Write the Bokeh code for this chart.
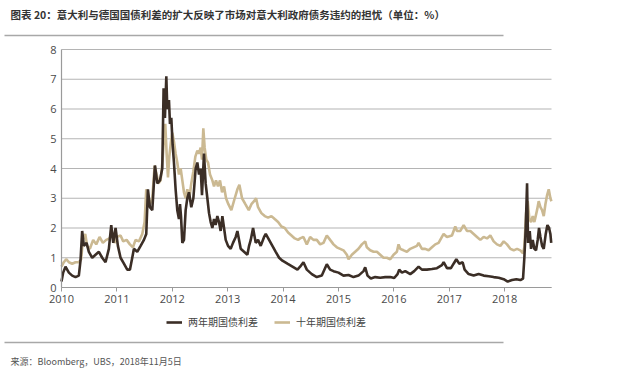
from bokeh.plotting import figure
from bokeh.models import (FixedTicker, Label, Legend, LegendItem, Range1d, LinearAxis)
from bokeh.embed import file_html
from bokeh.resources import INLINE

title_text = "图表 20：意大利与德国国债利差的扩大反映了市场对意大利政府债务违约的担忧（单位：%）"
source_text = "来源：Bloomberg，UBS，2018年11月5日"
name_2y = "两年期国债利差"
name_10y = "十年期国债利差"
year_ticks = [2010, 2011, 2012, 2013, 2014, 2015, 2016, 2017, 2018]
y_ticks = [0, 1, 2, 3, 4, 5, 6, 7, 8]
x_start, x_end = 2010.0, 2018.845
y_start, y_end = 0, 8

# Two-year spread (decimal year, %)
t_2y = [2010.000, 2010.030, 2010.072, 2010.133, 2010.193, 2010.253, 2010.313, 2010.343, 2010.373, 2010.404,
        2010.452, 2010.494, 2010.554, 2010.614, 2010.675, 2010.735, 2010.795, 2010.855, 2010.898, 2010.934,
        2010.976, 2011.018, 2011.066, 2011.127, 2011.187, 2011.235, 2011.277, 2011.307, 2011.367, 2011.428,
        2011.488, 2011.530, 2011.560, 2011.596, 2011.639, 2011.687, 2011.729, 2011.777, 2011.819, 2011.843,
        2011.867, 2011.892, 2011.910, 2011.940, 2011.958, 2011.982, 2012.006, 2012.030, 2012.060, 2012.090,
        2012.120, 2012.139, 2012.157, 2012.181, 2012.211, 2012.241, 2012.271, 2012.301, 2012.343, 2012.380,
        2012.422, 2012.452, 2012.482, 2012.512, 2012.536, 2012.554, 2012.572, 2012.602, 2012.633, 2012.663,
        2012.693, 2012.723, 2012.753, 2012.783, 2012.813, 2012.843, 2012.873, 2012.904, 2012.934, 2012.964,
        2013.006, 2013.054, 2013.096, 2013.145, 2013.175, 2013.235, 2013.295, 2013.355, 2013.386, 2013.416,
        2013.458, 2013.506, 2013.548, 2013.596, 2013.657, 2013.687, 2013.747, 2013.807, 2013.867, 2013.928,
        2013.988, 2014.078, 2014.169, 2014.259, 2014.307, 2014.367, 2014.428, 2014.518, 2014.608, 2014.699,
        2014.789, 2014.849, 2014.910, 2015.000, 2015.090, 2015.181, 2015.271, 2015.361, 2015.452, 2015.482,
        2015.524, 2015.584, 2015.663, 2015.753, 2015.843, 2015.934, 2016.006, 2016.066, 2016.096, 2016.145,
        2016.205, 2016.295, 2016.367, 2016.446, 2016.506, 2016.596, 2016.687, 2016.777, 2016.867, 2016.898,
        2016.958, 2017.030, 2017.078, 2017.127, 2017.181, 2017.241, 2017.277, 2017.349, 2017.440, 2017.530,
        2017.620, 2017.711, 2017.801, 2017.892, 2017.982, 2018.054, 2018.133, 2018.211, 2018.283, 2018.331,
        2018.355, 2018.380, 2018.404, 2018.422, 2018.452, 2018.476, 2018.506, 2018.536, 2018.566, 2018.596,
        2018.620, 2018.645, 2018.675, 2018.705, 2018.741, 2018.771, 2018.801, 2018.825, 2018.840]
v_2y = [0.2, 0.5, 0.7, 0.5, 0.4, 0.35, 0.4, 0.9, 1.9, 1.4,
        1.5, 1.2, 1.0, 1.1, 1.2, 1.0, 0.85, 1.3, 2.1, 1.5,
        2.0, 1.4, 1.0, 0.8, 0.6, 0.6, 1.0, 1.3, 1.2, 1.4,
        1.6, 1.8, 3.3, 2.7, 2.6, 4.1, 3.5, 3.6, 4.0, 6.7,
        5.7, 7.1, 6.0, 6.3, 5.5, 5.7, 4.8, 4.2, 3.3, 2.6,
        2.3, 2.8, 2.4, 1.5, 1.6, 2.6, 3.0, 3.2, 2.7, 3.0,
        4.0, 4.2, 3.8, 4.0, 3.1, 3.8, 4.5, 3.5, 3.0, 2.5,
        2.2, 2.0, 2.3, 2.1, 2.4, 2.2, 1.9, 2.4, 2.0, 1.6,
        1.4, 1.3, 1.5, 1.7, 1.9, 1.3, 1.2, 1.1, 1.4, 1.6,
        2.0, 1.5, 1.6, 1.4, 1.7, 1.8, 1.6, 1.4, 1.2, 1.0,
        0.9, 0.8, 0.7, 0.6, 0.7, 0.85, 0.6, 0.45, 0.35, 0.4,
        0.78, 0.6, 0.55, 0.5, 0.4, 0.42, 0.35, 0.4, 0.55, 0.68,
        0.4, 0.3, 0.35, 0.33, 0.35, 0.35, 0.32, 0.45, 0.6, 0.5,
        0.55, 0.45, 0.55, 0.7, 0.6, 0.6, 0.62, 0.65, 0.75, 0.85,
        0.65, 0.65, 0.8, 0.95, 0.8, 0.85, 0.6, 0.45, 0.4, 0.45,
        0.4, 0.38, 0.35, 0.33, 0.28, 0.2, 0.25, 0.28, 0.25, 0.3,
        1.0, 2.0, 3.5, 1.5, 1.9, 1.3, 1.6, 1.3, 1.25, 1.6,
        2.0, 1.7, 1.4, 1.3, 1.8, 2.1, 2.0, 1.8, 1.5]

# Ten-year spread (decimal year, %)
t_10y = [2010.000, 2010.042, 2010.084, 2010.133, 2010.193, 2010.253, 2010.313, 2010.355, 2010.386, 2010.428,
         2010.464, 2010.512, 2010.572, 2010.627, 2010.687, 2010.747, 2010.807, 2010.867, 2010.916, 2010.958,
         2011.006, 2011.066, 2011.114, 2011.175, 2011.235, 2011.289, 2011.337, 2011.398, 2011.458, 2011.500,
         2011.530, 2011.560, 2011.596, 2011.639, 2011.681, 2011.717, 2011.753, 2011.789, 2011.825, 2011.849,
         2011.873, 2011.898, 2011.922, 2011.946, 2011.976, 2012.000, 2012.030, 2012.060, 2012.090, 2012.120,
         2012.151, 2012.181, 2012.211, 2012.241, 2012.271, 2012.307, 2012.343, 2012.380, 2012.416, 2012.452,
         2012.482, 2012.512, 2012.536, 2012.560, 2012.584, 2012.614, 2012.645, 2012.681, 2012.723, 2012.753,
         2012.789, 2012.825, 2012.861, 2012.898, 2012.934, 2012.970, 2013.012, 2013.066, 2013.127, 2013.175,
         2013.211, 2013.259, 2013.319, 2013.380, 2013.428, 2013.476, 2013.512, 2013.548, 2013.608, 2013.669,
         2013.729, 2013.789, 2013.849, 2013.910, 2013.970, 2014.030, 2014.090, 2014.151, 2014.211, 2014.271,
         2014.307, 2014.367, 2014.428, 2014.488, 2014.548, 2014.608, 2014.669, 2014.729, 2014.789, 2014.849,
         2014.910, 2014.970, 2015.030, 2015.090, 2015.151, 2015.181, 2015.241, 2015.301, 2015.361, 2015.422,
         2015.482, 2015.512, 2015.572, 2015.633, 2015.693, 2015.753, 2015.813, 2015.873, 2015.934, 2015.994,
         2016.054, 2016.084, 2016.114, 2016.175, 2016.235, 2016.295, 2016.355, 2016.416, 2016.446, 2016.506,
         2016.566, 2016.627, 2016.687, 2016.747, 2016.807, 2016.867, 2016.898, 2016.958, 2017.048, 2017.108,
         2017.139, 2017.199, 2017.259, 2017.319, 2017.380, 2017.440, 2017.500, 2017.560, 2017.620, 2017.681,
         2017.741, 2017.801, 2017.861, 2017.922, 2017.982, 2018.042, 2018.102, 2018.163, 2018.223, 2018.283,
         2018.331, 2018.355, 2018.386, 2018.416, 2018.446, 2018.476, 2018.506, 2018.536, 2018.584, 2018.614,
         2018.645, 2018.675, 2018.705, 2018.735, 2018.765, 2018.795, 2018.825, 2018.843]
v_10y = [0.7, 0.85, 0.95, 0.85, 0.8, 0.85, 0.85, 0.95, 1.6, 1.8,
         1.4, 1.3, 1.6, 1.45, 1.7, 1.5, 1.6, 1.65, 1.85, 1.5,
         1.7, 1.75, 1.55, 1.6, 1.45, 1.35, 1.6, 1.55, 1.8, 2.2,
         3.3, 3.0, 2.8, 3.0, 4.1, 3.8, 3.5, 3.6, 4.3, 5.0,
         5.5, 4.5, 3.7, 4.4, 4.9, 5.2, 4.9, 4.5, 4.2, 3.8,
         4.0, 3.6, 3.2, 3.0, 3.3, 3.0, 3.5, 3.9, 4.4, 4.6,
         4.5, 4.7, 4.3, 5.35, 4.7, 4.3, 4.2, 3.8, 3.6, 3.4,
         3.6, 3.4, 3.6, 3.2, 3.4, 3.0, 2.8, 2.6, 3.0, 3.3,
         3.45, 3.0, 2.8, 2.6, 2.8, 2.9, 3.0, 2.7, 2.5, 2.4,
         2.35, 2.4, 2.3, 2.2, 2.05, 2.0, 1.85, 1.75, 1.65, 1.6,
         1.65, 1.7, 1.45, 1.7, 1.6, 1.6, 1.45, 1.5, 1.75, 1.6,
         1.45, 1.35, 1.3, 1.25, 1.1, 0.95, 1.1, 1.2, 1.3, 1.45,
         1.55, 1.35, 1.25, 1.2, 1.2, 1.1, 1.0, 1.0, 0.95, 1.1,
         1.2, 1.45, 1.3, 1.25, 1.2, 1.3, 1.35, 1.4, 1.5, 1.3,
         1.3, 1.25, 1.35, 1.45, 1.5, 1.7, 1.8, 1.7, 1.75, 2.05,
         1.9, 1.9, 2.1, 1.9, 1.9, 1.8, 1.7, 1.6, 1.7, 1.65,
         1.75, 1.55, 1.45, 1.4, 1.55, 1.45, 1.3, 1.25, 1.3, 1.25,
         1.15, 1.35, 2.5, 2.9, 2.3, 2.2, 2.4, 2.2, 2.6, 2.9,
         2.7, 2.6, 2.4, 2.8, 3.1, 3.3, 3.0, 2.9]

DARK = "#3b2e26"
TAN = "#cbb992"
FONT = "Open Sans"
CJK = "Noto Sans CJK SC"
W, H = 620, 379
# plot-area placement on the canvas (pixels from the top-left corner)
PL, PR, PT, PB = 61, 551, 49, 287

# extend the data ranges so the data area sits at PL..PR / PT..PB while the frame covers the canvas
xs = (x_end - x_start) / (PR - PL)
ys = (y_end - y_start) / (PB - PT)
xr = Range1d(x_start - PL * xs, x_end + (W - PR) * xs)
yr = Range1d(y_start - (H - PB) * ys, y_end + PT * ys)


def px_x(px):
    return xr.start + px * xs


def px_y(py):
    return yr.end - py * ys


p = figure(width=W, height=H, output_backend="svg", toolbar_location=None,
           x_range=xr, y_range=yr, x_axis_location=None, y_axis_location=None,
           min_border=0, min_border_left=0, min_border_right=0,
           min_border_top=0, min_border_bottom=0)
p.outline_line_color = None
p.grid.visible = False

# horizontal grid lines at the y ticks, spanning the data area
p.segment(x0=[x_start] * len(y_ticks), y0=y_ticks, x1=[x_end] * len(y_ticks), y1=y_ticks,
          line_color="#b4b4b4", line_width=1.2)

xaxis = LinearAxis(fixed_location=y_start, bounds=(x_start, x_end),
                   ticker=FixedTicker(ticks=year_ticks),
                   major_label_overrides={y: str(y) for y in year_ticks},
                   major_tick_in=0, major_tick_out=4, major_label_standoff=3)
yaxis = LinearAxis(fixed_location=x_start, bounds=(y_start, y_end),
                   ticker=FixedTicker(ticks=y_ticks),
                   major_tick_in=0, major_tick_out=0, major_label_standoff=5)
for ax in (xaxis, yaxis):
    ax.axis_line_color = "#9a9a9a"
    ax.axis_line_width = 1.2
    ax.major_tick_line_color = "#9a9a9a"
    ax.minor_tick_line_color = None
    ax.major_label_text_font = FONT
    ax.major_label_text_font_size = "11px"
    ax.major_label_text_color = "#4a4a4a"
p.add_layout(xaxis, "below")
p.add_layout(yaxis, "left")

# header / footer rules drawn as tick-less axis lines
for rule_y in (35, 342):
    rule = LinearAxis(fixed_location=px_y(rule_y), bounds=(px_x(4), px_x(503)),
                      ticker=FixedTicker(ticks=[]), major_tick_in=0, major_tick_out=0,
                      minor_tick_in=0, minor_tick_out=0,
                      axis_line_color="#a8a8a8", axis_line_width=1.5,
                      major_tick_line_color=None, minor_tick_line_color=None,
                      major_label_text_alpha=0)
    p.add_layout(rule, "below")

r10 = p.line(t_10y, v_10y, line_color=TAN, line_width=2.6)
r2 = p.line(t_2y, v_2y, line_color=DARK, line_width=2.6)

legend = Legend(items=[LegendItem(label=name_2y, renderers=[r2]),
                       LegendItem(label=name_10y, renderers=[r10])],
                location=(166, H - 329), orientation="horizontal",
                border_line_color=None, background_fill_alpha=0,
                padding=0, margin=0, spacing=16, glyph_width=16, glyph_height=14,
                label_height=14, label_standoff=6,
                label_text_font=CJK, label_text_font_size="10px", label_text_color="#444444")
p.add_layout(legend, "center")

p.add_layout(Label(x=px_x(10), y=px_y(14), text=title_text,
                   text_font=CJK, text_font_size="10.5px", text_font_style="bold",
                   text_color="#333333", text_baseline="middle"))
p.add_layout(Label(x=px_x(10), y=px_y(361), text=source_text,
                   text_font=CJK, text_font_size="9px", text_color="#555555",
                   text_baseline="middle"))

open("out.html", "w").write(file_html(p, INLINE))
